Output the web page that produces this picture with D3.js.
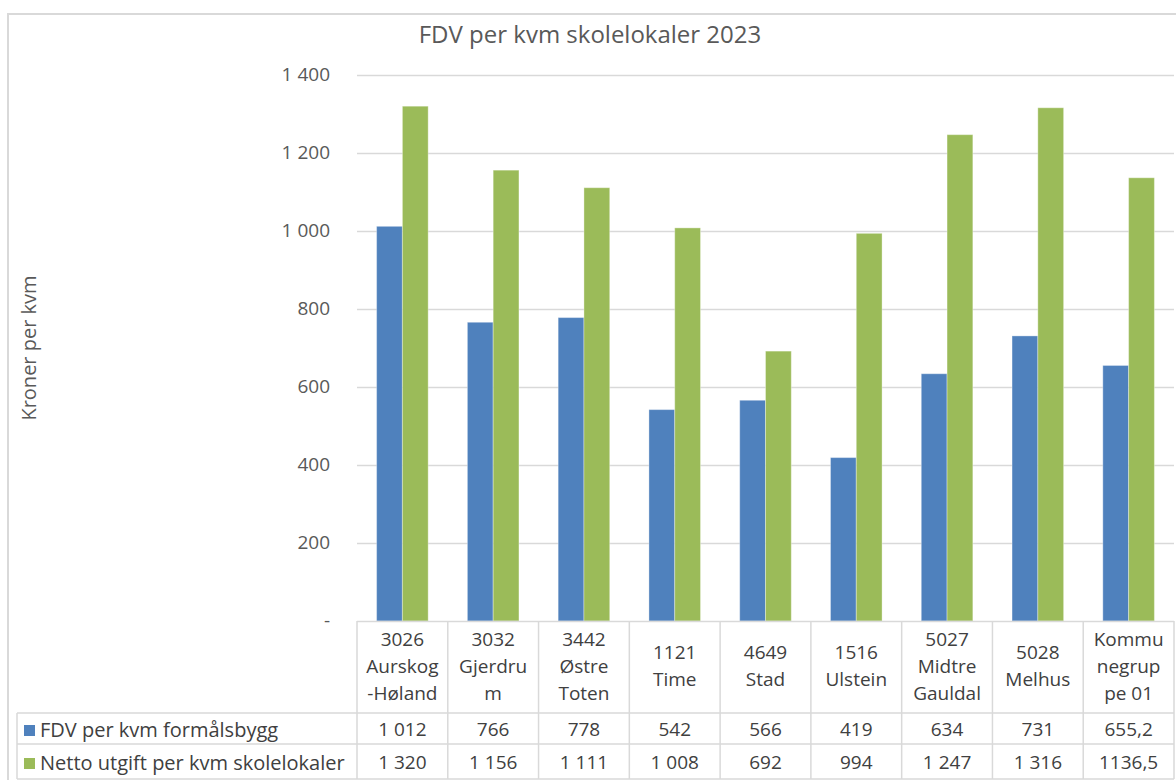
<!DOCTYPE html>
<html>
<head>
<meta charset="utf-8">
<script src="https://cdn.jsdelivr.net/npm/d3@7"></script>
<style>
  html, body { margin: 0; padding: 0; background: #fff; }
  svg { display: block; }
  text { font-family: "Open Sans", Lato, sans-serif; }
</style>
</head>
<body>
<svg id="chart" width="1176" height="780"></svg>
<script>
const title = "FDV per kvm skolelokaler 2023";
const yTitle = "Kroner per kvm";
const categories = ["3026 Aurskog-Høland", "3032 Gjerdrum", "3442 Østre Toten", "1121 Time", "4649 Stad", "1516 Ulstein", "5027 Midtre Gauldal", "5028 Melhus", "Kommunegruppe 01"];
const categoryLines = [["3026","Aurskog","-Høland"],["3032","Gjerdru","m"],["3442","Østre","Toten"],["1121","Time"],["4649","Stad"],["1516","Ulstein"],["5027","Midtre","Gauldal"],["5028","Melhus"],["Kommu","negrup","pe 01"]];
const seriesNames = ["FDV per kvm formålsbygg", "Netto utgift per kvm skolelokaler"];
const fdv = [1012, 766, 778, 542, 566, 419, 634, 731, 655.2];
const netto = [1320, 1156, 1111, 1008, 692, 994, 1247, 1316, 1136.5];
const fdvLabels = ["1 012","766","778","542","566","419","634","731","655,2"];
const nettoLabels = ["1 320","1 156","1 111","1 008","692","994","1 247","1 316","1136,5"];
const yTicks = [0, 200, 400, 600, 800, 1000, 1200, 1400];
const yTickLabels = ["-", "200", "400", "600", "800", "1 000", "1 200", "1 400"];
const colors = ["#4F81BD", "#9BBB59"];

const series = [fdv, netto];
const labels = [fdvLabels, nettoLabels];

const svg = d3.select("#chart");
const pLeft = 357, pRight = 1174, pTop = 75, pBottom = 621;
const textColor = "#404040";
const fs = "19px";

// outer chart border
svg.append("rect").attr("x", 8).attr("y", 14).attr("width", 1300).attr("height", 900)
  .attr("fill", "none").attr("stroke", "#d9d9d9").attr("stroke-width", 2);

const y = d3.scaleLinear().domain([0, 1400]).range([pBottom, pTop]);
const x0 = d3.scaleBand().domain(categories).range([pLeft, pRight]).paddingInner(0).paddingOuter(0);
const x1 = d3.scaleBand().domain([0, 1]).range([0, x0.bandwidth()]).paddingInner(0).paddingOuter(0.76);

// gridlines
svg.append("g").selectAll("line").data(yTicks.slice(1)).join("line")
  .attr("x1", pLeft).attr("x2", pRight)
  .attr("y1", d => y(d) + 0.5).attr("y2", d => y(d) + 0.5)
  .attr("stroke", "#d9d9d9").attr("stroke-width", 1.5);

// y axis labels
const yAxis = d3.axisLeft(y).tickValues(yTicks).tickFormat((d, i) => yTickLabels[i]).tickSize(0).tickPadding(0);
const yg = svg.append("g").attr("transform", `translate(330,0)`).call(yAxis);
yg.select(".domain").remove();
yg.selectAll("text").attr("fill", "#595959").style("font-size", fs).attr("font-family", "'Open Sans', sans-serif").attr("dy", "0.3em");

// y axis title
svg.append("text").attr("transform", `translate(36,${(pTop + pBottom) / 2}) rotate(-90)`)
  .attr("text-anchor", "middle").attr("fill", "#595959").style("font-size", "20px").text(yTitle);

// title
svg.append("text").attr("x", 590).attr("y", 43).attr("text-anchor", "middle")
  .attr("fill", "#595959").style("font-size", "24px").text(title);

// bars
const groups = svg.append("g").selectAll("g").data(categories).join("g")
  .attr("transform", d => `translate(${x0(d)},0)`);
groups.selectAll("rect").data((d, i) => series.map((s, k) => ({ k, v: s[i] }))).join("rect")
  .attr("x", d => x1(d.k)).attr("width", x1.bandwidth())
  .attr("y", d => y(d.v)).attr("height", d => pBottom - y(d.v))
  .attr("fill", d => colors[d.k])
  .attr("stroke", "#ffffff").attr("stroke-opacity", 0.35).attr("stroke-width", 1);

// data table
const hdrTop = pBottom, hdrBot = 713, row1Bot = 744, row2Bot = 779;
const tableLeft = 17;
const g = svg.append("g");
const lineColor = "#d9d9d9";
g.append("line").attr("x1", pLeft).attr("x2", pRight).attr("y1", hdrTop + 0.5).attr("y2", hdrTop + 0.5).attr("stroke", lineColor).attr("stroke-width", 1.5);
[hdrBot, row1Bot, row2Bot].forEach(yy => g.append("line").attr("x1", tableLeft).attr("x2", pRight).attr("y1", yy).attr("y2", yy).attr("stroke", lineColor).attr("stroke-width", 1.5));
categories.forEach((c, i) => {
  g.append("line").attr("x1", x0(c)).attr("x2", x0(c)).attr("y1", hdrTop).attr("y2", row2Bot).attr("stroke", lineColor).attr("stroke-width", 1.5);
});
g.append("line").attr("x1", pRight).attr("x2", pRight).attr("y1", hdrTop).attr("y2", row2Bot).attr("stroke", lineColor).attr("stroke-width", 1.5);
g.append("line").attr("x1", tableLeft).attr("x2", tableLeft).attr("y1", hdrBot).attr("y2", row2Bot).attr("stroke", lineColor).attr("stroke-width", 1.5);

// header labels
const lh = 27;
categories.forEach((c, i) => {
  const lines = categoryLines[i];
  const cx = x0(c) + x0.bandwidth() / 2;
  const cy = (hdrTop + hdrBot) / 2;
  const t = g.append("text").attr("text-anchor", "middle").attr("fill", textColor).style("font-size", fs);
  lines.forEach((ln, j) => {
    t.append("tspan").attr("x", cx).attr("y", cy + (j - (lines.length - 1) / 2) * lh).attr("dy", "0.3em").text(ln);
  });
});

// rows
const rowCenters = [730, 763];
seriesNames.forEach((name, k) => {
  const cy = rowCenters[k];
  g.append("rect").attr("x", 24).attr("y", cy - 5).attr("width", 11).attr("height", 11).attr("fill", colors[k]);
  g.append("text").attr("x", 40).attr("y", cy).attr("dy", "0.33em").attr("fill", textColor).style("font-size", "20px").text(name);
  categories.forEach((c, i) => {
    g.append("text").attr("x", x0(c) + x0.bandwidth() / 2).attr("y", cy).attr("dy", "0.33em")
      .attr("text-anchor", "middle").attr("fill", textColor).style("font-size", fs).text(labels[k][i]);
  });
});
</script>
</body>
</html>
